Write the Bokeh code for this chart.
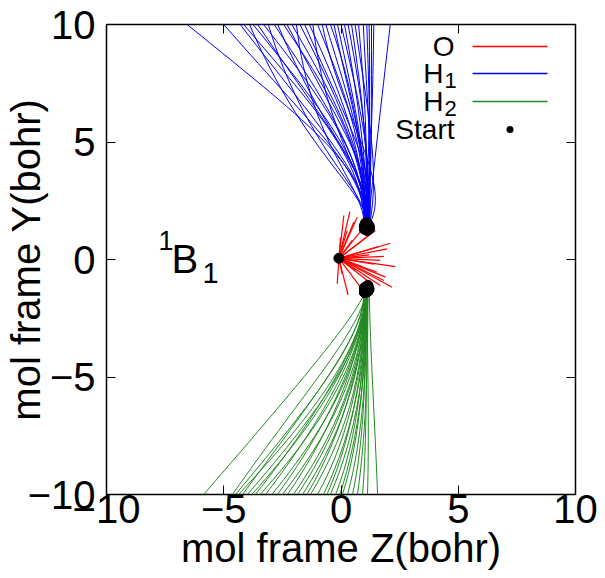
from bokeh.embed import file_html
from bokeh.models import (BoxAnnotation, ColumnDataSource, FixedTicker,
                          Label, LinearAxis, Range1d)
from bokeh.plotting import figure
from bokeh.resources import INLINE

FONT = "Liberation Sans"

# axis ticks
tick_values = [-10, -5, 0, 5, 10]
tick_labels = ["\u221210", "\u22125", "0", "5", "10"]

# O fragment: one start point, short straight tracks
o_start_z = [-0.09]
o_start_y = [0.05]
o_end_z = [0.12, 0.38, 0.69, 0.55, 0.97, 1.26, 1.47, 0.48, 0.26, -0.02,
           2.11, 1.97, 1.60, 1.83, 1.68, 2.32, 1.20, 1.54, 1.90, 2.18,
           1.83, 1.68, 1.12, 0.83, 0.62, 0.05, -0.16, 0.30, 0.90, 1.40]
o_end_y = [1.87, 2.04, 1.80, 1.60, 1.37, 1.09, 1.23, 0.81, 1.23, 0.95,
           0.69, 0.45, 0.55, 0.13, -0.04, -0.30, 0.20, -0.54, -0.75, -1.18,
           -0.89, -1.11, -0.89, -1.18, -0.47, -0.61, -1.03, -1.50, -0.30, -0.20]

# H1 fragment: start, two control points, exit at the top edge
h1_start_z = [1.10, 1.00, 1.10, 1.00, 1.20, 1.10, 1.10, 1.05, 1.15, 1.00,
              1.20, 1.10, 1.05, 1.15, 1.00, 1.10, 1.20, 1.05, 1.10, 1.00,
              1.15, 1.10, 1.05, 1.20, 1.00, 1.10, 1.15, 1.05, 1.10, 1.20,
              1.00, 1.10, 1.15, 1.05, 1.20, 1.10, 1.15]
h1_start_y = [1.40, 1.30, 1.55, 1.30, 1.40, 1.25, 1.45, 1.30, 1.50, 1.35,
              1.40, 1.30, 1.55, 1.25, 1.40, 1.45, 1.30, 1.35, 1.50, 1.30,
              1.40, 1.25, 1.45, 1.35, 1.40, 1.30, 1.50, 1.35, 1.25, 1.40,
              1.45, 1.30, 1.35, 1.55, 1.30, 1.40, 1.35]
h1_c1_z = [1.10, 1.20, 1.10, 1.00, 1.00, 1.10, 1.30, 1.00, 1.00, 1.10,
           1.30, 1.00, 1.40, 1.10, 1.00, 1.10, 1.50, 1.00, 1.20, 1.10,
           2.30, 1.20, 1.00, 1.30, 1.10, 1.40, 1.10, 1.30, 1.20, 1.70,
           1.20, 1.40, 1.30, 1.20, 1.30, 1.30, 1.40]
h1_c1_y = [3.90, 3.60, 3.40, 4.20, 3.00, 4.00, 3.60, 4.30, 3.10, 3.90,
           3.70, 4.40, 3.80, 4.20, 3.20, 4.00, 3.90, 4.20, 3.60, 4.40,
           3.20, 4.10, 4.00, 3.60, 4.60, 4.00, 4.20, 3.80, 4.40, 3.80,
           4.60, 3.90, 4.40, 4.80, 4.20, 4.60, 4.00]
h1_c2_z = [-1.00, -0.80, -0.40, -0.90, -1.60, -0.50, -0.20, -0.40, -1.50, -0.20,
           -0.60, 0.00, 0.30, -0.10, -1.30, 0.20, 0.40, 0.30, -0.60, 0.40,
           0.00, 0.50, 0.70, 0.60, 0.60, 0.90, 0.70, 1.00, 0.90, 1.10,
           1.00, 1.10, 1.20, 1.25, 1.30, 1.35, 1.70]
h1_c2_y = [5.50, 5.20, 5.00, 6.20, 4.60, 6.00, 5.00, 6.30, 4.70, 6.00,
           5.00, 6.40, 5.00, 6.60, 4.80, 6.20, 5.50, 6.50, 5.00, 6.60,
           6.00, 6.30, 6.80, 5.80, 6.50, 6.20, 7.00, 6.40, 7.00, 6.50,
           7.20, 6.80, 7.00, 6.80, 7.20, 7.00, 6.50]
h1_end_z = [-6.56, -5.00, -4.30, -4.15, -3.90, -3.75, -3.55, -3.30, -3.10, -2.85,
            -2.70, -2.45, -2.30, -2.10, -1.90, -1.75, -1.55, -1.35, -1.20, -1.00,
            -0.80, -0.65, -0.45, -0.30, -0.15, 0.00, 0.15, 0.30, 0.45, 0.60,
            0.75, 0.95, 1.10, 1.20, 1.30, 1.40, 2.10]
h1_end_y = 10.0

# H2 fragment: start, two control points, exit at the bottom edge
h2_start_z = [1.05, 1.10, 1.00, 1.15, 1.05, 1.10, 1.00, 1.15, 1.05, 1.10,
              1.00, 1.15, 1.05, 1.10, 1.00, 1.15, 1.05, 1.10, 1.00, 1.10,
              1.15, 1.05, 1.10, 1.00, 1.15, 1.05, 1.10, 1.00, 1.15, 1.05,
              1.10, 1.20]
h2_start_y = [-1.35, -1.25, -1.30, -1.10, -1.40, -1.30, -1.25, -1.35, -1.20, -1.30,
              -1.40, -1.25, -1.30, -1.15, -1.30, -1.35, -1.25, -1.30, -1.20, -1.35,
              -1.30, -1.25, -1.30, -1.40, -1.15, -1.30, -1.25, -1.30, -1.35, -1.20,
              -1.30, -1.25]
h2_c1_z = [0.60, 0.85, 0.95, 0.95, 0.90, 1.00, 0.95, 0.95, 1.00, 0.95,
           1.00, 0.95, 1.00, 0.95, 1.00, 1.05, 1.00, 1.00, 1.05, 1.00,
           1.05, 1.05, 1.10, 1.05, 1.10, 1.05, 1.10, 1.10, 1.15, 1.10,
           1.15, 1.25]
h2_c1_y = [-2.30, -3.00, -3.30, -3.50, -3.30, -3.70, -3.50, -3.30, -3.80, -3.60,
           -3.90, -3.70, -4.10, -3.80, -4.00, -3.90, -4.20, -3.90, -4.30, -4.10,
           -4.40, -4.20, -4.50, -4.30, -4.60, -4.40, -4.70, -4.50, -4.80, -4.60,
           -4.90, -4.00]
h2_c2_z = [-0.20, -1.40, -0.90, -0.60, -1.10, -0.70, -0.40, -0.80, -0.30, -0.60,
           -0.10, -0.30, 0.00, -0.20, 0.20, 0.10, 0.30, 0.20, 0.45, 0.50,
           0.60, 0.55, 0.70, 0.75, 0.80, 0.85, 0.95, 1.00, 1.05, 1.10,
           1.20, 1.45]
h2_c2_y = [-3.50, -5.40, -5.70, -6.00, -5.80, -6.20, -6.20, -6.40, -6.50, -6.60,
           -6.50, -6.70, -6.80, -7.00, -6.80, -7.10, -7.00, -7.20, -7.10, -7.30,
           -7.20, -7.40, -7.30, -7.50, -7.40, -7.60, -7.50, -7.70, -7.60, -7.80,
           -7.70, -7.00]
h2_end_z = [-5.86, -4.63, -4.50, -4.37, -4.20, -3.99, -3.80, -3.65, -3.45, -3.22,
            -2.95, -2.71, -2.50, -2.28, -2.03, -1.85, -1.64, -1.45, -1.30, -1.00,
            -0.75, -0.60, -0.45, -0.23, -0.05, 0.06, 0.28, 0.49, 0.70, 0.92,
            1.13, 1.56]
h2_end_y = -10.0

# legend entries
legend_names = ["O", "H", "H", "Start"]
legend_subs = ["", "1", "2", ""]
legend_colors = ["red", "blue", "forestgreen", "black"]

p = figure(frame_width=469, frame_height=470,
           x_range=Range1d(-10, 10), y_range=Range1d(-10, 10),
           output_backend="svg", toolbar_location=None,
           min_border_left=106, min_border_right=30,
           min_border_top=24, min_border_bottom=84)
p.background_fill_color = "white"
p.border_fill_color = "white"
p.outline_line_color = "black"
p.outline_line_width = 1.5
p.xgrid.visible = False
p.ygrid.visible = False

ticker = FixedTicker(ticks=tick_values)
overrides = {v: s for v, s in zip(tick_values, tick_labels)}

for ax in (p.xaxis[0], p.yaxis[0]):
    ax.ticker = ticker
    ax.major_label_overrides = overrides
    ax.major_label_text_font = FONT
    ax.major_label_text_font_size = "40px"
    ax.major_label_text_color = "black"
    ax.major_tick_in = 9
    ax.major_tick_out = 0
    ax.minor_tick_in = 0
    ax.minor_tick_out = 0
    ax.axis_line_color = None
    ax.major_tick_line_color = "black"
    ax.axis_label_text_font = FONT
    ax.axis_label_text_font_size = "40px"
    ax.axis_label_text_font_style = "normal"
    ax.axis_label_text_color = "black"
p.xaxis[0].axis_label = "mol frame Z(bohr)"
p.yaxis[0].axis_label = "mol frame Y(bohr)"
p.yaxis[0].major_label_standoff = 11
p.xaxis[0].major_label_standoff = 0
p.yaxis[0].axis_label_standoff = -23
p.xaxis[0].axis_label_standoff = 0

# mirrored ticks on top and right
for side in ("above", "right"):
    mirror = LinearAxis(ticker=ticker, major_tick_in=9, major_tick_out=0,
                        minor_tick_in=0, minor_tick_out=0,
                        axis_line_color=None, major_label_text_font_size="1px",
                        major_label_text_color=None, major_label_standoff=0)
    p.add_layout(mirror, side)

# H1 and H2 tracks
h1 = ColumnDataSource(dict(x0=h1_start_z, y0=h1_start_y, cx0=h1_c1_z, cy0=h1_c1_y,
                           cx1=h1_c2_z, cy1=h1_c2_y, x1=h1_end_z))
p.bezier(x0="x0", y0="y0", x1="x1", y1=h1_end_y, cx0="cx0", cy0="cy0",
         cx1="cx1", cy1="cy1", source=h1, line_color="blue", line_width=1)

h2 = ColumnDataSource(dict(x0=h2_start_z, y0=h2_start_y, cx0=h2_c1_z, cy0=h2_c1_y,
                           cx1=h2_c2_z, cy1=h2_c2_y, x1=h2_end_z))
p.bezier(x0="x0", y0="y0", x1="x1", y1=h2_end_y, cx0="cx0", cy0="cy0",
         cx1="cx1", cy1="cy1", source=h2, line_color="forestgreen", line_width=1)

# O tracks
p.segment(x0=o_start_z[0], y0=o_start_y[0], x1=o_end_z, y1=o_end_y,
          line_color="red", line_width=1.2)

# start points
p.scatter(x=o_start_z + h1_start_z + h2_start_z,
          y=o_start_y + h1_start_y + h2_start_y,
          size=10, marker="circle", fill_color="black", line_color="black")


def screen_label(x, y, text, size, **kw):
    p.add_layout(Label(x=x, y=y, x_units="screen", y_units="screen", text=text,
                       text_font=FONT, text_font_size=size, text_color="black",
                       text_baseline="middle", **kw))


def screen_box(left, right, bottom, top, color, radius=0):
    p.add_layout(BoxAnnotation(left=left, right=right, bottom=bottom, top=top,
                               left_units="screen", right_units="screen",
                               bottom_units="screen", top_units="screen",
                               border_radius=radius, fill_color=color, fill_alpha=1,
                               line_color=None))


# state label 1B1 (screen offsets from the frame's lower-left corner)
screen_label(52, 254, "1", "27px")
screen_label(65, 236, "B", "40px")
screen_label(96, 222, "1", "29px")

# legend
row_y = [448, 421, 393, 365]
for name, sub, color, ry in zip(legend_names, legend_subs, legend_colors, row_y):
    if sub:
        screen_label(337, ry, name, "28px", text_align="right")
        screen_label(338, ry - 7, sub, "22px", text_align="left")
    else:
        screen_label(348, ry, name, "28px", text_align="right")
    if name == "Start":
        screen_box(400, 407, ry - 3.5, ry + 3.5, color, radius=4)
    else:
        screen_box(366, 441, ry - 0.7, ry + 0.7, color)

open("out.html", "w").write(file_html(p, INLINE))
